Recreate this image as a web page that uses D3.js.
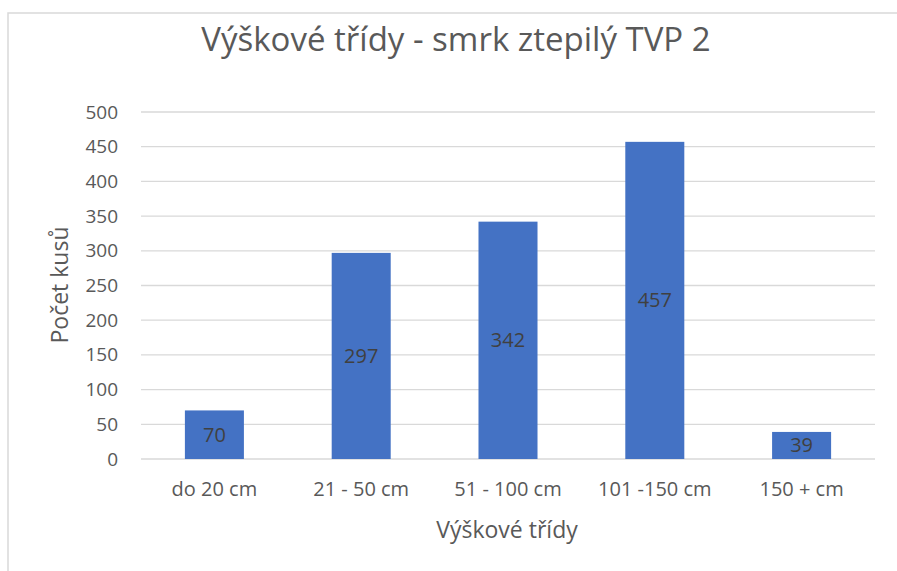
<!DOCTYPE html>
<html>
<head>
<meta charset="utf-8">
<script src="https://cdn.jsdelivr.net/npm/d3@7"></script>
<style>
  body { margin: 0; background: #fff; }
  text { font-family: "Open Sans", Lato, sans-serif; }
</style>
</head>
<body>
<svg id="chart" width="897" height="571"></svg>
<script>
var categories = ["do 20 cm", "21 - 50 cm", "51 - 100 cm", "101 -150 cm", "150 + cm"];
var values = [70, 297, 342, 457, 39];
var yTicks = [0, 50, 100, 150, 200, 250, 300, 350, 400, 450, 500];

var svg = d3.select("#chart");
var margin = {left: 141, right: 22, top: 112, bottom: 112};
var W = 897, H = 571;
var font = "'Open Sans', Lato, sans-serif";

// outer chart frame (only top and left visible in the crop)
svg.append("rect")
    .attr("x", 8).attr("y", 13)
    .attr("width", 920).attr("height", 600)
    .attr("fill", "none")
    .attr("stroke", "#d9d9d9")
    .attr("stroke-width", 1.5);

var x = d3.scaleBand()
    .domain(categories)
    .range([margin.left, W - margin.right])
    .paddingInner(0.598)
    .paddingOuter(0.299);

var y = d3.scaleLinear()
    .domain([0, 500])
    .range([H - margin.bottom, margin.top]);

// gridlines
svg.append("g").selectAll("line")
    .data(yTicks)
    .enter()
    .append("line")
    .attr("x1", margin.left)
    .attr("x2", W - margin.right)
    .attr("y1", function(d) { return y(d); })
    .attr("y2", function(d) { return y(d); })
    .attr("stroke", "#d9d9d9")
    .attr("stroke-width", 1.3);

// y axis labels
var yAxis = d3.axisLeft(y).tickValues(yTicks).tickSize(0).tickPadding(0);
var gy = svg.append("g").attr("transform", "translate(118,0)").call(yAxis);
gy.select(".domain").remove();
gy.selectAll("text")
    .attr("fill", "#595959")
    .style("font-size", "19px")
    .style("font-family", font);

// x axis labels
var xAxis = d3.axisBottom(x).tickSize(0).tickPadding(0);
var gx = svg.append("g").attr("transform", "translate(0," + (H - margin.bottom + 23) + ")").call(xAxis);
gx.select(".domain").remove();
gx.selectAll("text")
    .attr("fill", "#595959")
    .style("font-size", "20px")
    .style("font-family", font);

// bars
svg.append("g").selectAll("rect")
    .data(values)
    .enter()
    .append("rect")
    .attr("x", function(d, i) { return x(categories[i]); })
    .attr("y", function(d) { return y(d); })
    .attr("width", x.bandwidth())
    .attr("height", function(d) { return y(0) - y(d); })
    .attr("fill", "#4472c4");

// data labels, centred in bar
svg.append("g").selectAll("text")
    .data(values)
    .enter()
    .append("text")
    .attr("x", function(d, i) { return x(categories[i]) + x.bandwidth() / 2; })
    .attr("y", function(d) { return (y(d) + y(0)) / 2; })
    .attr("dy", "0.35em")
    .attr("text-anchor", "middle")
    .attr("fill", "#404040")
    .style("font-size", "20px")
    .text(function(d) { return d; });

// title
svg.append("text")
    .attr("x", 456).attr("y", 51)
    .attr("text-anchor", "middle")
    .attr("fill", "#595959")
    .style("font-size", "33px")
    .text("Výškové třídy - smrk ztepilý TVP 2");

// axis titles
svg.append("text")
    .attr("x", 507).attr("y", 538)
    .attr("text-anchor", "middle")
    .attr("fill", "#595959")
    .style("font-size", "23px")
    .text("Výškové třídy");

svg.append("text")
    .attr("transform", "translate(68,285) rotate(-90)")
    .attr("text-anchor", "middle")
    .attr("fill", "#595959")
    .style("font-size", "23px")
    .text("Počet kusů");
</script>
</body>
</html>
